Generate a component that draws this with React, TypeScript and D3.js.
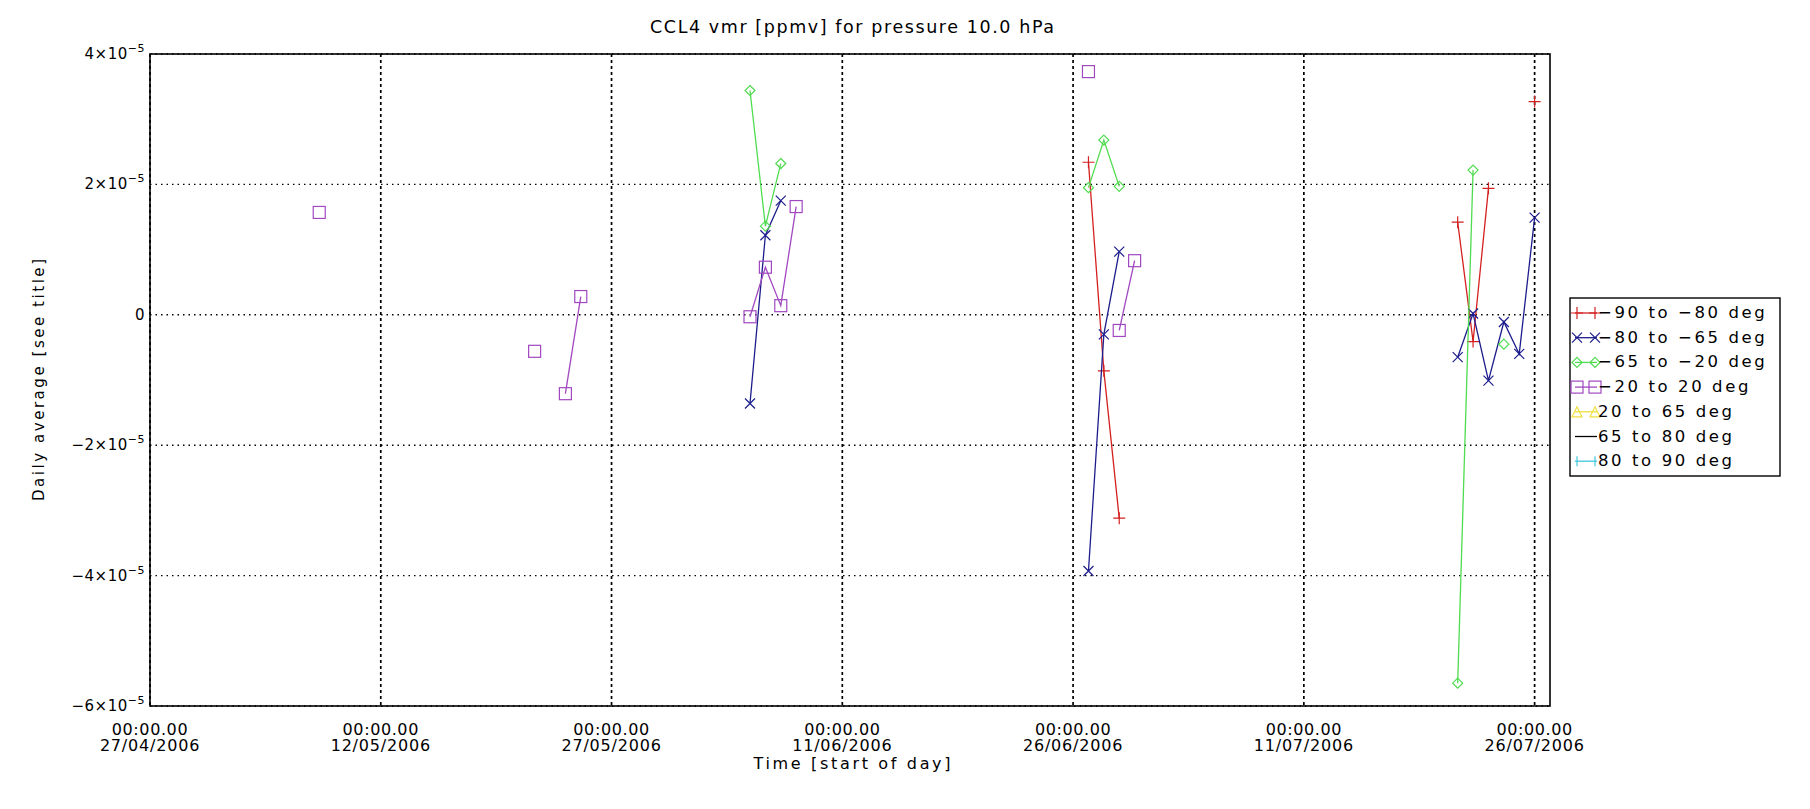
import React from "react";
import * as d3 from "d3";

const WIDTH = 1810;
const HEIGHT = 809;

const chartTitle = "CCL4 vmr [ppmv] for pressure 10.0 hPa";
const yAxisTitle = "Daily average [see title]";
const xAxisTitle = "Time [start of day]";

const xDomainDates = ["2006-04-27", "2006-07-27"];
const xTickDates = ["2006-04-27", "2006-05-12", "2006-05-27", "2006-06-11", "2006-06-26", "2006-07-11", "2006-07-26"];
const xTickTime = "00:00.00";
const yDomain = [-6e-5, 4e-5];
const yTicks = [-6e-5, -4e-5, -2e-5, 0, 2e-5, 4e-5];

const seriesNames = ["−90 to −80 deg", "−80 to −65 deg", "−65 to −20 deg", "−20 to 20 deg", "20 to 65 deg", "65 to 80 deg", "80 to 90 deg"];
const seriesColors = ["#d42020", "#1c1c8c", "#50dc50", "#a048c0", "#eee040", "#000000", "#40c8dc"];
const seriesMarkers = ["plus", "cross", "diamond", "square", "triangle", "none", "bar"];

const redDates = ["2006-06-27", "2006-06-28", "2006-06-29", "2006-07-21", "2006-07-22", "2006-07-23", "2006-07-26"];
const redValues = [2.34e-5, -0.86e-5, -3.12e-5, 1.42e-5, -0.41e-5, 1.94e-5, 3.27e-5];

const blueDates = ["2006-06-05", "2006-06-06", "2006-06-07", "2006-06-27", "2006-06-28", "2006-06-29", "2006-07-21", "2006-07-22", "2006-07-23", "2006-07-24", "2006-07-25", "2006-07-26"];
const blueValues = [-1.36e-5, 1.22e-5, 1.75e-5, -3.93e-5, -0.3e-5, 0.97e-5, -0.65e-5, 0.02e-5, -1.01e-5, -0.11e-5, -0.6e-5, 1.49e-5];

const greenDates = ["2006-06-05", "2006-06-06", "2006-06-07", "2006-06-27", "2006-06-28", "2006-06-29", "2006-07-21", "2006-07-22", "2006-07-24"];
const greenValues = [3.44e-5, 1.36e-5, 2.32e-5, 1.95e-5, 2.68e-5, 1.97e-5, -5.65e-5, 2.22e-5, -0.45e-5];

const purpleDates = ["2006-05-08", "2006-05-22", "2006-05-24", "2006-05-25", "2006-06-05", "2006-06-06", "2006-06-07", "2006-06-08", "2006-06-27", "2006-06-29", "2006-06-30"];
const purpleValues = [1.57e-5, -0.56e-5, -1.21e-5, 0.28e-5, -0.03e-5, 0.73e-5, 0.14e-5, 1.66e-5, 3.73e-5, -0.24e-5, 0.83e-5];

const yellowDates: string[] = [];
const yellowValues: number[] = [];
const blackDates: string[] = [];
const blackValues: number[] = [];
const cyanDates: string[] = [];
const cyanValues: number[] = [];

const seriesDates = [redDates, blueDates, greenDates, purpleDates, yellowDates, blackDates, cyanDates];
const seriesValues = [redValues, blueValues, greenValues, purpleValues, yellowValues, blackValues, cyanValues];

const margin = { left: 150, right: 260, top: 54, bottom: 103 };
const FONT = "'DejaVu Sans', 'Liberation Sans', sans-serif";

const parse = (s: string) => new Date(s + "T00:00:00Z");
const DAY = 86400000;

function Marker({ type, x, y, color }: { type: string; x: number; y: number; color: string }) {
  const sw = 1.2;
  if (type === "plus") {
    const h = 6;
    return <path d={`M${x - h},${y}H${x + h}M${x},${y - h}V${y + h}`} stroke={color} strokeWidth={sw} fill="none" />;
  }
  if (type === "cross") {
    const h = 5;
    return <path d={`M${x - h},${y - h}L${x + h},${y + h}M${x - h},${y + h}L${x + h},${y - h}`} stroke={color} strokeWidth={sw} fill="none" />;
  }
  if (type === "diamond") {
    const h = 5;
    return <path d={`M${x},${y - h}L${x + h},${y}L${x},${y + h}L${x - h},${y}Z`} stroke={color} strokeWidth={sw} fill="none" />;
  }
  if (type === "square") {
    const h = 6;
    return <rect x={x - h} y={y - h} width={2 * h} height={2 * h} stroke={color} strokeWidth={sw} fill="none" />;
  }
  if (type === "triangle") {
    const h = 5;
    return <path d={`M${x},${y - h}L${x + h},${y + h}L${x - h},${y + h}Z`} stroke={color} strokeWidth={sw} fill="none" />;
  }
  if (type === "bar") {
    const h = 5;
    return <path d={`M${x},${y - h}V${y + h}`} stroke={color} strokeWidth={sw} fill="none" />;
  }
  return null;
}

export default function App() {
  const innerW = WIDTH - margin.left - margin.right;
  const innerH = HEIGHT - margin.top - margin.bottom;
  const x = d3.scaleUtc().domain(xDomainDates.map(parse)).range([margin.left, margin.left + innerW]);
  const y = d3.scaleLinear().domain(yDomain).range([margin.top + innerH, margin.top]);
  const line = d3
    .line<{ d: Date; v: number }>()
    .x((p) => x(p.d))
    .y((p) => y(p.v));

  const fmtDate = d3.utcFormat("%d/%m/%Y");

  const series = seriesNames.map((name, i) => {
    const pts = seriesDates[i].map((s, j) => ({ d: parse(s), v: seriesValues[i][j] }));
    const segs: { d: Date; v: number }[][] = [];
    pts.forEach((p, j) => {
      if (j > 0 && p.d.getTime() - pts[j - 1].d.getTime() <= DAY * 1.01) {
        segs[segs.length - 1].push(p);
      } else {
        segs.push([p]);
      }
    });
    return { name, color: seriesColors[i], marker: seriesMarkers[i], pts, segs };
  });

  const x0 = margin.left;
  const x1 = margin.left + innerW;
  const y0 = margin.top;
  const y1 = margin.top + innerH;

  const legendX = 1570;
  const legendY = 298;
  const legendW = 210;
  const rowH = 24.7;
  const legendH = 178;

  return (
    <svg width={WIDTH} height={HEIGHT} style={{ position: "absolute", left: 0, top: 0, background: "#fff" }} fontFamily={FONT}>
      <rect x={0} y={0} width={WIDTH} height={HEIGHT} fill="#fff" />
      {/* gridlines */}
      {yTicks.map((t) => (
        <line key={"gy" + t} x1={x0} x2={x1} y1={y(t)} y2={y(t)} stroke="#000" strokeWidth={1.4} strokeDasharray="1.5 4" />
      ))}
      {xTickDates.map((s) => (
        <line key={"gx" + s} x1={x(parse(s))} x2={x(parse(s))} y1={y0} y2={y1} stroke="#000" strokeWidth={1.7} strokeDasharray="3 3" />
      ))}
      {/* series */}
      {series.map((s) => (
        <g key={s.name}>
          {s.segs.filter((sg) => sg.length > 1).map((sg, k) => (
            <path key={k} d={line(sg) || ""} stroke={s.color} strokeWidth={1.3} fill="none" />
          ))}
          {s.pts.map((p, k) => (
            <Marker key={k} type={s.marker} x={x(p.d)} y={y(p.v)} color={s.color} />
          ))}
        </g>
      ))}
      {/* frame */}
      <rect x={x0} y={y0} width={innerW} height={innerH} fill="none" stroke="#000" strokeWidth={1.6} />
      {/* title */}
      <text x={(x0 + x1) / 2 + 2} y={33} textAnchor="middle" fontSize={17.5} textLength={404} lengthAdjust="spacing">
        {chartTitle}
      </text>
      {/* y tick labels */}
      {yTicks.map((t) => {
        const m = Math.round(t / 1e-5);
        return (
          <text key={"yl" + t} x={145} y={y(t) + 5} textAnchor="end" fontSize={15} letterSpacing={0.5}>
            {m === 0 ? (
              "0"
            ) : (
              <>
                {(m < 0 ? "−" : "") + Math.abs(m) + "×10"}
                <tspan dy={-7} fontSize={11}>−5</tspan>
              </>
            )}
          </text>
        );
      })}
      {/* x tick labels */}
      {xTickDates.map((s) => (
        <g key={"xl" + s}>
          <text x={x(parse(s))} y={735} textAnchor="middle" fontSize={16} letterSpacing={0.6}>
            {xTickTime}
          </text>
          <text x={x(parse(s))} y={751} textAnchor="middle" fontSize={16} letterSpacing={0.8}>
            {fmtDate(parse(s))}
          </text>
        </g>
      ))}
      {/* axis titles */}
      <text x={(x0 + x1) / 2 + 2} y={769} textAnchor="middle" fontSize={16} textLength={197} lengthAdjust="spacing">
        {xAxisTitle}
      </text>
      <text
        transform={`translate(44, ${(y0 + y1) / 2}) rotate(-90)`}
        textAnchor="middle"
        fontSize={15}
        textLength={242}
        lengthAdjust="spacing"
      >
        {yAxisTitle}
      </text>
      {/* legend */}
      <rect x={legendX} y={legendY} width={legendW} height={legendH} fill="#fff" stroke="#000" strokeWidth={1.4} />
      {series.map((s, i) => {
        const cy = legendY + 15 + i * rowH;
        const lx0 = legendX + 5;
        const lx1 = legendX + 25;
        return (
          <g key={"lg" + i}>
            <line x1={lx0} x2={lx1 + 2} y1={cy} y2={cy} stroke={s.color} strokeWidth={1.3} />
            <Marker type={s.marker} x={lx0 + 2} y={cy} color={s.color} />
            <Marker type={s.marker} x={lx1} y={cy} color={s.color} />
            <text x={legendX + 28} y={cy + 5} fontSize={16.5} letterSpacing={2.6}>
              {s.name}
            </text>
          </g>
        );
      })}
    </svg>
  );
}
